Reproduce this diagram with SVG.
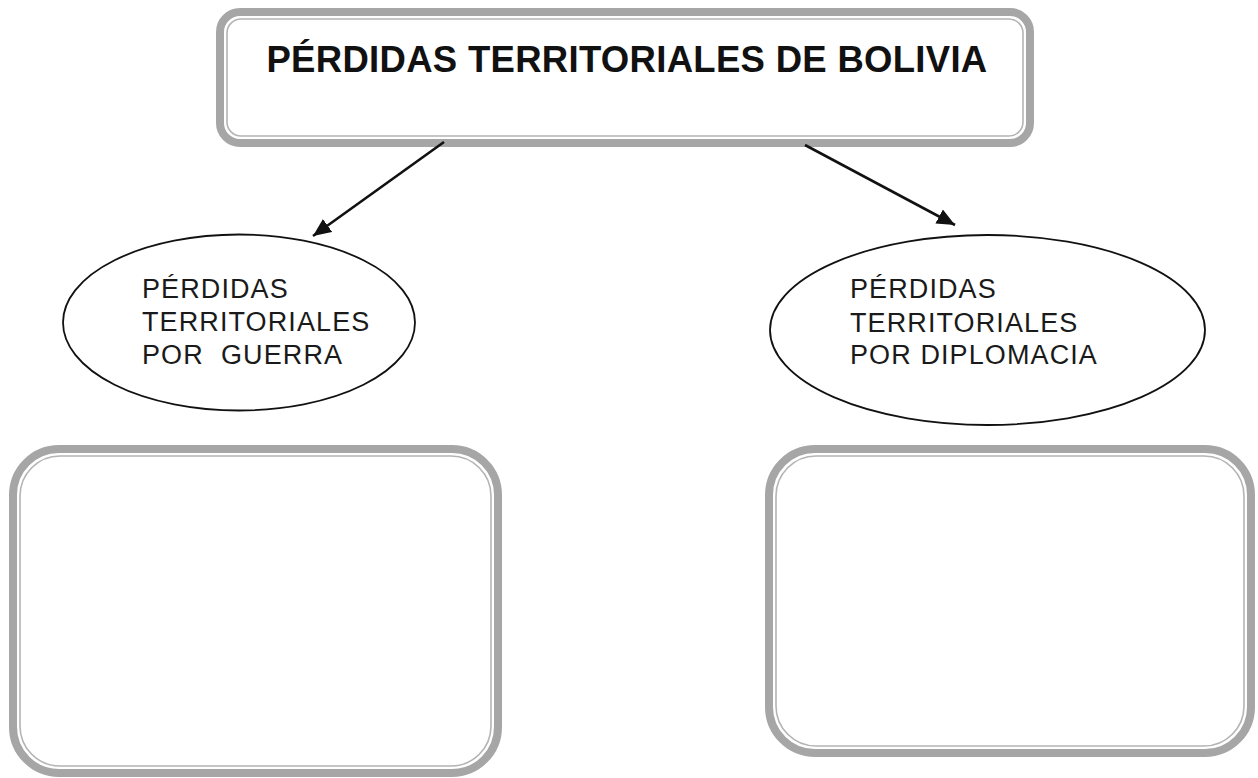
<svg xmlns="http://www.w3.org/2000/svg" width="1258" height="778" viewBox="0 0 1258 778">
  <style>
    .outer { fill: #ffffff; stroke: #a6a6a6; stroke-width: 8; }
    .inner { fill: none; stroke: #b4b4b4; stroke-width: 1.6; }
    .ell { fill: #ffffff; stroke: #111111; stroke-width: 1.8; }
    .title { font-family: "Liberation Sans", Arial, sans-serif; font-weight: bold; font-size: 36.5px; fill: #111111; letter-spacing: 0.3px; }
    .lbl { font-family: "Liberation Sans", Arial, sans-serif; font-size: 27px; fill: #1a1a1a; letter-spacing: 1.1px; white-space: pre; }
    .conn { stroke: #111111; stroke-width: 2.6; fill: none; }
  </style>
  <defs>
    <marker id="arrow" markerUnits="userSpaceOnUse" markerWidth="20" markerHeight="18" refX="18" refY="8" orient="auto">
      <path d="M0,0 L18,8 L0,16 Z" fill="#111111"/>
    </marker>
  </defs>
  <rect width="1258" height="778" fill="#ffffff"/>

  <g id="title-node">
    <rect class="outer" x="220" y="12" width="810" height="131" rx="20" ry="20"/>
    <rect class="inner" x="227" y="19" width="796" height="117" rx="14" ry="14"/>
    <text class="title" x="627" y="72" text-anchor="middle">PÉRDIDAS TERRITORIALES DE BOLIVIA</text>
  </g>

  <g id="war-node">
    <ellipse class="ell" cx="239" cy="322.5" rx="176" ry="88"/>
    <text class="lbl" x="142" y="298">PÉRDIDAS</text>
    <text class="lbl" x="142" y="331">TERRITORIALES</text>
    <text class="lbl" x="142" y="364">POR  GUERRA</text>
  </g>

  <g id="diplomacy-node">
    <ellipse class="ell" cx="987.5" cy="330" rx="217.5" ry="95"/>
    <text class="lbl" x="850" y="298">PÉRDIDAS</text>
    <text class="lbl" x="850" y="332">TERRITORIALES</text>
    <text class="lbl" x="850" y="364">POR DIPLOMACIA</text>
  </g>

  <g id="war-box">
    <rect class="outer" x="13" y="449" width="485" height="324" rx="46" ry="46"/>
    <rect class="inner" x="20" y="456" width="471" height="310" rx="40" ry="40"/>
  </g>

  <g id="diplomacy-box">
    <rect class="outer" x="769" y="449" width="482" height="304" rx="46" ry="46"/>
    <rect class="inner" x="776" y="456" width="468" height="290" rx="40" ry="40"/>
  </g>

  <g id="connectors">
    <line class="conn" x1="444" y1="142" x2="313" y2="236" marker-end="url(#arrow)"/>
    <line class="conn" x1="805" y1="145" x2="955" y2="225" marker-end="url(#arrow)"/>
  </g>
</svg>
